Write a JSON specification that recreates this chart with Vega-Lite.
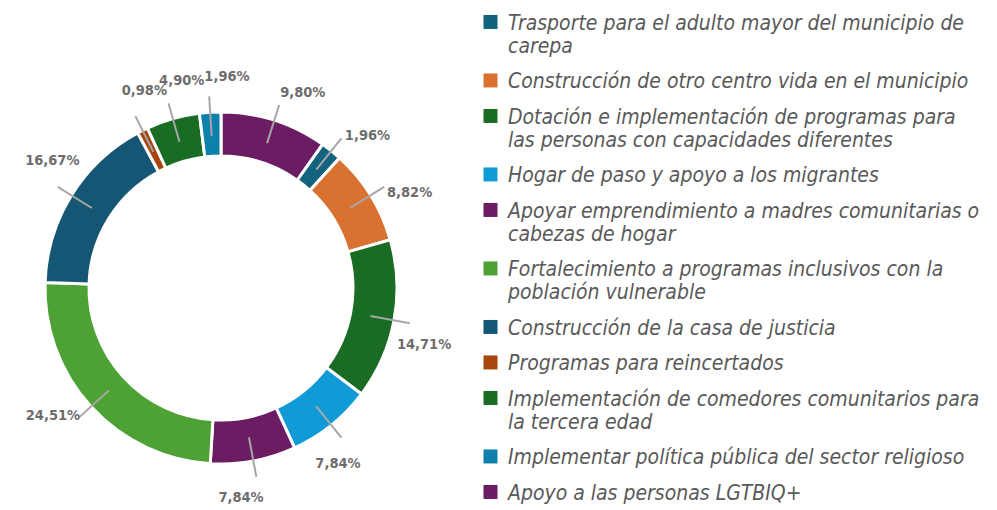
{
  "$schema": "https://vega.github.io/schema/vega-lite/v6.json",
  "autosize": {"type": "none"},
  "width": 442,
  "height": 440,
  "padding": {"left": 0, "top": 68, "right": 555, "bottom": 2},
  "background": "white",
  "config": {
    "view": {"stroke": null},
    "locale": {"number": {"decimal": ",", "thousands": ".", "grouping": [3], "currency": ["", " €"]}}
  },
  "data": {
    "values": [
      {"categoria": "Apoyo a las personas LGTBIQ+", "share": 0.0980},
      {"categoria": "Trasporte para el adulto mayor del municipio de carepa", "share": 0.0196},
      {"categoria": "Construcción de otro  centro vida en el municipio", "share": 0.0882},
      {"categoria": "Dotación e implementación de programas para las personas con capacidades diferentes", "share": 0.1471},
      {"categoria": "Hogar de paso y apoyo a los migrantes", "share": 0.0784},
      {"categoria": "Apoyar emprendimiento a madres comunitarias o cabezas de hogar", "share": 0.0784},
      {"categoria": "Fortalecimiento a programas inclusivos con la población vulnerable", "share": 0.2451},
      {"categoria": "Construcción de la casa de justicia", "share": 0.1667},
      {"categoria": "Programas para reincertados", "share": 0.0098},
      {"categoria": "Implementación de comedores comunitarios para la tercera edad", "share": 0.0490},
      {"categoria": "Implementar política pública del sector religioso", "share": 0.0196}
    ]
  },
  "transform": [
    {"window": [{"op": "row_number", "as": "idx"}]},
    {"window": [{"op": "sum", "field": "share", "as": "cum"}], "frame": [null, 0]},
    {"calculate": "datum.cum - datum.share / 2", "as": "mid"}
  ],
  "layer": [
    {
      "mark": {"type": "arc", "radius": 176, "radius2": 132, "stroke": "white", "strokeWidth": 3},
      "encoding": {
        "theta": {"field": "share", "type": "quantitative", "stack": true},
        "order": {"field": "idx", "type": "quantitative"},
        "color": {
          "field": "categoria",
          "type": "nominal",
          "scale": {
            "domain": [
              "Trasporte para el adulto mayor del municipio de carepa",
              "Construcción de otro  centro vida en el municipio",
              "Dotación e implementación de programas para las personas con capacidades diferentes",
              "Hogar de paso y apoyo a los migrantes",
              "Apoyar emprendimiento a madres comunitarias o cabezas de hogar",
              "Fortalecimiento a programas inclusivos con la población vulnerable",
              "Construcción de la casa de justicia",
              "Programas para reincertados",
              "Implementación de comedores comunitarios para la tercera edad",
              "Implementar política pública del sector religioso",
              "Apoyo a las personas LGTBIQ+"
            ],
            "range": ["#13637f", "#d97131", "#1a6b24", "#109bd7", "#6b1c62", "#4ea135", "#165675", "#a7470f", "#1a6b24", "#0d80ab", "#6b1c62"]
          },
          "legend": {
            "orient": "none",
            "legendX": 480,
            "legendY": -66,
            "title": null,
            "padding": 0,
            "symbolType": "M-1,0.35H1V2.35H-1Z",
            "symbolSize": 196,
            "symbolStrokeWidth": 0,
            "symbolOpacity": 1,
            "labelFont": "DejaVu Sans Condensed, Roboto, sans-serif",
            "labelFontStyle": "italic",
            "labelFontSize": 21,
            "labelColor": "#595959",
            "labelLimit": 540,
            "labelOffset": 7,
            "labelBaseline": "top",
            "rowPadding": 3.5,
            "labelExpr": "datum.value == 'Trasporte para el adulto mayor del municipio de carepa' ? ['Trasporte para el adulto mayor del municipio de', 'carepa'] : datum.value == 'Dotación e implementación de programas para las personas con capacidades diferentes' ? ['Dotación e implementación de programas para', 'las personas con capacidades diferentes'] : datum.value == 'Apoyar emprendimiento a madres comunitarias o cabezas de hogar' ? ['Apoyar emprendimiento a madres comunitarias o', 'cabezas de hogar'] : datum.value == 'Fortalecimiento a programas inclusivos con la población vulnerable' ? ['Fortalecimiento a programas inclusivos con la', 'población vulnerable'] : datum.value == 'Implementación de comedores comunitarios para la tercera edad' ? ['Implementación de comedores comunitarios para', 'la tercera edad'] : datum.value",
            "encode": {"labels": {"update": {"lineHeight": {"value": 26}}}}
          }
        }
      }
    },
    {
      "mark": {"type": "arc", "radius": 192, "radius2": 152, "filled": false, "stroke": "#a6a6a6", "strokeWidth": 2},
      "encoding": {
        "theta": {"field": "mid", "type": "quantitative", "stack": null},
        "theta2": {"field": "mid"}
      }
    },
    {
      "mark": {"type": "text", "radius": 211, "thetaOffset": 0.09, "font": "DejaVu Sans Condensed, Roboto, sans-serif", "fontWeight": "bold", "fontSize": 14.5, "color": "#6d6d6d"},
      "encoding": {
        "theta": {"field": "share", "type": "quantitative", "stack": true},
        "order": {"field": "idx", "type": "quantitative"},
        "text": {"field": "share", "type": "quantitative", "format": ".2%"}
      }
    }
  ]
}
